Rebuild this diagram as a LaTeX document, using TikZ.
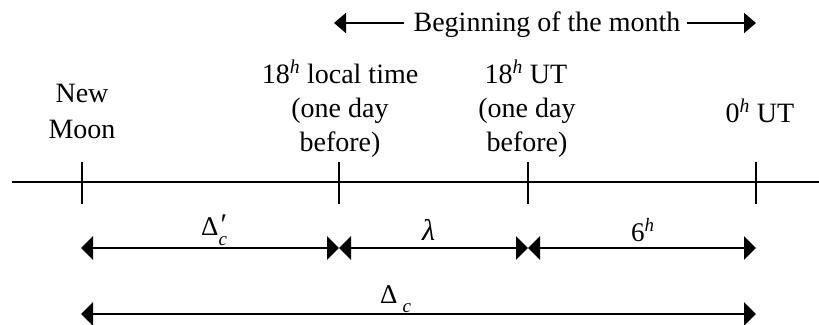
\documentclass[tikz,border=0pt]{standalone}
\usepackage{fontspec}
\setmainfont{Liberation Serif}
\usetikzlibrary{arrows.meta}
\begin{document}
\begin{tikzpicture}[x=1pt,y=-1pt,
  lbl/.style={font=\fontsize{28}{34}\selectfont, inner sep=0pt, anchor=base},
  mlbl/.style={font=\fontsize{27}{27}\selectfont, inner sep=0pt, anchor=base west},
  dim/.style={line width=2.6pt, {Triangle[length=12pt,width=23pt]}-{Triangle[length=12pt,width=23pt]}},
  topar/.style={line width=2pt, -{Triangle[length=12pt,width=20pt]}},
  axis/.style={line width=2.4pt},
  tickmark/.style={line width=2pt}]
\useasboundingbox (0,0) rectangle (819,324);

% title with arrows
\node[lbl] (title) at (547,31) {Beginning of the month};
\coordinate (tl) at (334,23);
\coordinate (tr) at (756,23);
\coordinate (tlb) at (404,23);
\coordinate (trb) at (687,23);
\draw[topar] (tlb) -- (tl);
\draw[topar] (trb) -- (tr);

% axis
\coordinate (axL) at (12,182);
\coordinate (axR) at (819,182);
\draw[axis] (axL) -- (axR);
\coordinate (t1) at (82,182);
\coordinate (t2) at (339,182);
\coordinate (t3) at (528,182);
\coordinate (t4) at (756,182);
\foreach \t in {t1,t2,t3,t4} \draw[tickmark] (\t) +(0,-20) -- +(0,22);

% labels above axis
\node[lbl] (nm1) at (82,102) {New};
\node[lbl] (nm2) at (82,138) {Moon};
\node[lbl] (lt1) at (340,83) {18\textsuperscript{\textit{h}} local time};
\node[lbl] (lt2) at (340,117) {(one day};
\node[lbl] (lt3) at (340,151) {before)};
\node[lbl] (ut1) at (526,83) {18\textsuperscript{\textit{h}} UT};
\node[lbl] (ut2) at (527,117) {(one day};
\node[lbl] (ut3) at (527,151) {before)};
\node[lbl] (z1) at (760,122) {0\textsuperscript{\textit{h}} UT};

% dimension arrows row 1
\coordinate (a1) at (81,248);
\coordinate (a2) at (339,248);
\coordinate (a3) at (528,248);
\coordinate (a4) at (756,248);
\draw[dim] (a1) -- (a2);
\draw[dim] (a2) -- (a3);
\draw[dim] (a3) -- (a4);
\node[mlbl] (d1) at (201,235) {Δ\rlap{\hspace{2pt}\raisebox{1pt}{\fontsize{30}{30}\selectfont ′}}\raisebox{-10pt}{\fontsize{19}{19}\selectfont\itshape c}};
\node[mlbl, font=\fontsize{30}{30}\selectfont] (lam) at (422,240) {\itshape λ};
\node[mlbl, font=\fontsize{27}{27}\selectfont] (six) at (631,241) {6\textsuperscript{\textit{h}}};

% row 2
\coordinate (b1) at (81,314);
\coordinate (b4) at (756,314);
\draw[dim] (b1) -- (b4);
\node[mlbl] (d2) at (380,303) {Δ\hspace{5pt}\raisebox{-9pt}{\fontsize{19}{19}\selectfont\itshape c}};
\end{tikzpicture}
\end{document}
